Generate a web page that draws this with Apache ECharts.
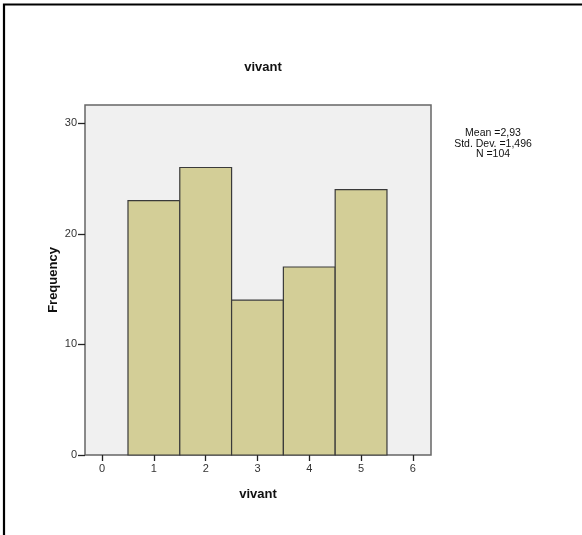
<!DOCTYPE html>
<html>
<head>
<meta charset="utf-8">
<script src="https://cdn.jsdelivr.net/npm/echarts@6/dist/echarts.min.js"></script>
<style>
  html, body { margin: 0; padding: 0; background: #fff; }
  #chart { width: 582px; height: 535px; }
</style>
</head>
<body>
<div id="chart"></div>
<script>
// Histogram of "vivant": one bin per integer score
var binCenters = [1, 2, 3, 4, 5];
var frequencies = [23, 26, 14, 17, 24];
var xTicks = [0, 1, 2, 3, 4, 5, 6];
var yTicks = [0, 10, 20, 30];
var statsLines = ['Mean =2,93', 'Std. Dev. =1,496', 'N =104'];
var titleText = 'vivant';
var xName = 'vivant';
var yName = 'Frequency';

var font = 'Arial, "Liberation Sans", sans-serif';

var chart = echarts.init(document.getElementById('chart'), null, { renderer: 'canvas' });

var option = {
  backgroundColor: '#ffffff',
  animation: false,
  title: {
    text: titleText,
    left: 258,
    textAlign: 'center',
    top: 56,
    textStyle: { fontFamily: font, fontSize: 13, fontWeight: 'bold', color: '#111' }
  },
  grid: {
    left: 85, top: 105, width: 346, height: 350,
    show: true,
    backgroundColor: '#f0f0f0',
    borderColor: '#666666',
    borderWidth: 1.5
  },
  xAxis: {
    type: 'value',
    min: -0.33,
    max: 6.35,
    name: xName,
    nameLocation: 'middle',
    nameGap: 33,
    nameTextStyle: { fontFamily: font, fontSize: 13, fontWeight: 'bold', color: '#111' },
    axisLine: { show: false, onZero: false },
    splitLine: { show: false },
    axisTick: { show: true, length: 6, customValues: xTicks, lineStyle: { color: '#222', width: 1.3 } },
    axisLabel: { customValues: xTicks, margin: 8, fontFamily: font, fontSize: 11, color: '#333' }
  },
  yAxis: {
    type: 'value',
    min: 0,
    max: 31.65,
    name: yName,
    nameLocation: 'middle',
    nameGap: 25.5,
    nameMoveOverlap: false,
    nameRotate: 90,
    nameTextStyle: { fontFamily: font, fontSize: 13, fontWeight: 'bold', color: '#111' },
    axisLine: { show: false, onZero: false },
    splitLine: { show: false },
    axisTick: { show: true, length: 7, customValues: yTicks, lineStyle: { color: '#222', width: 1.3 } },
    axisLabel: { customValues: yTicks, margin: 8, fontFamily: font, fontSize: 11, color: '#333' }
  },
  series: [{
    type: 'custom',
    data: binCenters.map(function (c, i) { return [c, frequencies[i]]; }),
    renderItem: function (params, api) {
      var c = api.value(0);
      var f = api.value(1);
      var p0 = api.coord([c - 0.5, f]);
      var p1 = api.coord([c + 0.5, 0]);
      return {
        type: 'rect',
        shape: { x: p0[0], y: p0[1], width: p1[0] - p0[0], height: p1[1] - p0[1] },
        style: { fill: '#d3ce97', stroke: '#3a3a3a', lineWidth: 1.2 }
      };
    }
  }],
  graphic: [
    {
      type: 'text',
      x: 493,
      y: 128,
      style: {
        text: statsLines.join('\n'),
        fontFamily: font,
        fontSize: 10.5,
        lineHeight: 10.5,
        fill: '#111',
        align: 'center',
        verticalAlign: 'top'
      }
    },
    {
      type: 'polyline',
      shape: { points: [[4, 535], [4, 4.5], [582, 4.5]] },
      style: { stroke: '#000', lineWidth: 2.2, fill: null }
    }
  ]
};

chart.setOption(option);
</script>
</body>
</html>
